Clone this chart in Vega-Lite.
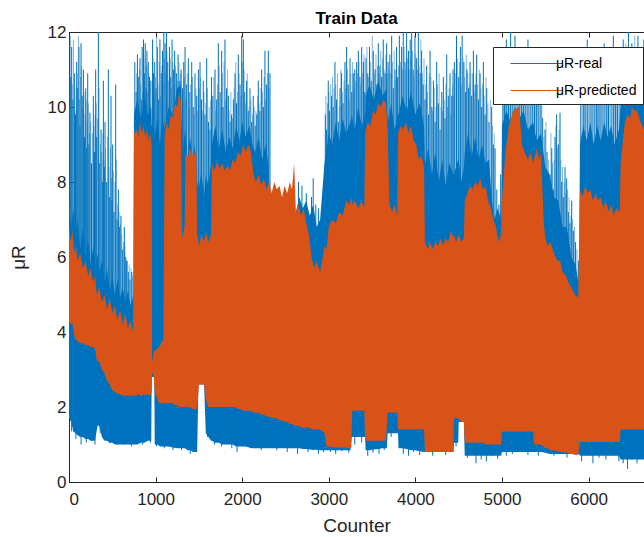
{
"$schema": "https://vega.github.io/schema/vega-lite/v6.json",
"width": 575, "height": 450,
"autosize": {"type": "none"},
"padding": {"left": 69, "top": 32, "right": 0, "bottom": 55},
"background": "white",
"title": {"text": "Train Data", "fontSize": 17, "fontWeight": "bold", "font": "Liberation Sans", "color": "#000000", "offset": -5, "anchor": "middle", "frame": "group"},
"config": {
  "view": {"stroke": "#262626", "strokeWidth": 1},
  "axis": {"labelFont": "Liberation Sans", "labelFontSize": 17, "labelColor": "#262626", "titleFont": "Liberation Sans", "titleFontSize": 19, "titleFontWeight": "normal", "titleColor": "#262626", "tickColor": "#262626", "domainColor": "#262626", "tickSize": -5, "labelPadding": 8, "grid": false}
},
"datasets": {
  "blue_band": [
    {"x":0,"lo":1.7,"top":7.5},{"x":25,"lo":1.6,"top":6.8},{"x":50,"lo":1.35,"top":7.3},{"x":75,"lo":1.3,"top":6.6},{"x":100,"lo":1.25,"top":7.0},{"x":130,"lo":1.2,"top":6.2},{"x":160,"lo":1.2,"top":6.8},{"x":190,"lo":1.15,"top":6.0},{"x":220,"lo":1.15,"top":6.5},{"x":250,"lo":1.1,"top":5.8},{"x":280,"lo":1.1,"top":6.3},{"x":300,"lo":1.1,"top":5.7},{"x":330,"lo":1.5,"top":6.1},{"x":350,"lo":1.5,"top":5.6},{"x":380,"lo":1.2,"top":5.9},{"x":410,"lo":1.1,"top":5.3},{"x":440,"lo":1.1,"top":5.7},{"x":470,"lo":1.05,"top":5.1},{"x":500,"lo":1.05,"top":5.5},{"x":530,"lo":1.0,"top":5.0},{"x":560,"lo":1.0,"top":5.4},{"x":590,"lo":1.0,"top":4.9},{"x":620,"lo":1.0,"top":5.2},{"x":650,"lo":1.0,"top":4.8},{"x":680,"lo":1.0,"top":5.1},{"x":710,"lo":1.0,"top":4.7},{"x":745,"lo":1.0,"top":5.0},
    {"x":750,"lo":1.0,"top":9.8},{"x":790,"lo":1.0,"top":10.2},{"x":830,"lo":1.05,"top":9.7},{"x":870,"lo":1.05,"top":10.3},{"x":910,"lo":1.1,"top":9.8},{"x":950,"lo":1.1,"top":10.0},
    {"x":955,"lo":2.8,"top":9.5},{"x":985,"lo":2.8,"top":9.4},{"x":990,"lo":1.0,"top":9.2},{"x":1020,"lo":1.0,"top":9.7},{"x":1050,"lo":0.95,"top":9.0},{"x":1080,"lo":0.95,"top":9.8},{"x":1100,"lo":0.95,"top":9.4},{"x":1150,"lo":0.95,"top":10.0},{"x":1200,"lo":0.92,"top":9.8},{"x":1250,"lo":0.9,"top":10.5},{"x":1290,"lo":0.9,"top":10.6},
    {"x":1310,"lo":0.9,"top":8.8},{"x":1340,"lo":0.9,"top":9.4},{"x":1370,"lo":0.85,"top":8.6},{"x":1400,"lo":0.85,"top":9.2},{"x":1430,"lo":0.8,"top":8.5},{"x":1450,"lo":0.8,"top":9.0},{"x":1480,"lo":0.8,"top":8.0},{"x":1495,"lo":2.6,"top":7.8},{"x":1530,"lo":2.6,"top":8.3},{"x":1560,"lo":2.6,"top":7.6},{"x":1580,"lo":1.3,"top":8.2},{"x":1610,"lo":1.2,"top":7.9},{"x":1640,"lo":1.1,"top":8.5},
    {"x":1650,"lo":1.1,"top":9.0},{"x":1690,"lo":1.05,"top":9.5},{"x":1730,"lo":1.05,"top":8.9},{"x":1770,"lo":1.0,"top":9.4},{"x":1810,"lo":1.0,"top":8.8},{"x":1850,"lo":1.0,"top":9.2},{"x":1890,"lo":1.0,"top":8.9},{"x":1930,"lo":0.95,"top":9.5},{"x":1970,"lo":0.95,"top":9.1},{"x":2000,"lo":0.95,"top":9.6},{"x":2040,"lo":0.95,"top":9.2},{"x":2080,"lo":0.92,"top":9.5},{"x":2120,"lo":0.9,"top":9.0},{"x":2150,"lo":0.9,"top":8.8},{"x":2190,"lo":0.9,"top":9.2},{"x":2230,"lo":0.9,"top":8.6},{"x":2270,"lo":0.9,"top":9.0},{"x":2300,"lo":0.9,"top":8.5},
    {"x":2330,"lo":0.9,"top":7.0},{"x":2620,"lo":0.9,"top":7.2},{"x":2660,"lo":0.9,"top":7.6},{"x":2700,"lo":0.88,"top":7.3},{"x":2740,"lo":0.88,"top":7.5},{"x":2780,"lo":0.87,"top":7.1},{"x":2820,"lo":0.86,"top":7.4},{"x":2860,"lo":0.86,"top":6.8},{"x":2900,"lo":0.85,"top":7.0},
    {"x":2950,"lo":0.85,"top":8.5},{"x":3000,"lo":0.85,"top":9.3},{"x":3040,"lo":0.85,"top":9.0},{"x":3080,"lo":0.85,"top":9.6},{"x":3120,"lo":0.85,"top":9.1},{"x":3160,"lo":0.85,"top":9.7},{"x":3200,"lo":0.85,"top":9.3},{"x":3250,"lo":0.85,"top":9.6},{"x":3265,"lo":1.2,"top":9.8},{"x":3300,"lo":1.2,"top":9.4},{"x":3340,"lo":1.2,"top":10.0},{"x":3380,"lo":1.2,"top":9.5},{"x":3420,"lo":1.2,"top":9.8},
    {"x":3425,"lo":0.85,"top":10.3},{"x":3470,"lo":0.85,"top":10.6},{"x":3520,"lo":0.87,"top":10.2},{"x":3570,"lo":0.88,"top":10.7},{"x":3620,"lo":0.9,"top":10.3},{"x":3670,"lo":0.9,"top":10.5},
    {"x":3680,"lo":1.3,"top":9.6},{"x":3720,"lo":1.3,"top":10.1},{"x":3760,"lo":1.3,"top":9.4},{"x":3800,"lo":1.3,"top":9.8},
    {"x":3805,"lo":0.9,"top":9.8},{"x":3850,"lo":0.9,"top":10.3},{"x":3900,"lo":0.88,"top":9.9},{"x":3950,"lo":0.85,"top":10.4},{"x":4000,"lo":0.85,"top":9.8},{"x":4050,"lo":0.82,"top":10.1},{"x":4100,"lo":0.8,"top":9.5},
    {"x":4110,"lo":0.8,"top":8.5},{"x":4150,"lo":0.8,"top":8.9},{"x":4190,"lo":0.8,"top":8.2},{"x":4230,"lo":0.8,"top":8.8},{"x":4270,"lo":0.8,"top":8.0},{"x":4310,"lo":0.8,"top":8.6},{"x":4350,"lo":0.8,"top":7.9},{"x":4390,"lo":0.8,"top":8.5},{"x":4440,"lo":0.8,"top":8.2},
    {"x":4445,"lo":1.05,"top":8.2},{"x":4495,"lo":1.05,"top":8.6},{"x":4500,"lo":1.6,"top":8.6},{"x":4530,"lo":1.6,"top":8.0},{"x":4560,"lo":1.6,"top":8.4},
    {"x":4570,"lo":0.7,"top":8.8},{"x":4610,"lo":0.7,"top":9.3},{"x":4650,"lo":0.7,"top":8.7},{"x":4690,"lo":0.7,"top":9.2},{"x":4730,"lo":0.7,"top":8.6},{"x":4770,"lo":0.7,"top":9.0},{"x":4810,"lo":0.7,"top":8.5},{"x":4850,"lo":0.7,"top":8.6},{"x":4880,"lo":0.7,"top":7.6},{"x":4910,"lo":0.7,"top":7.0},{"x":4950,"lo":0.7,"top":7.3},{"x":4990,"lo":0.7,"top":7.0},
    {"x":5000,"lo":0.8,"top":9.5},{"x":5050,"lo":0.8,"top":9.9},{"x":5100,"lo":0.8,"top":9.6},{"x":5150,"lo":0.8,"top":10.0},{"x":5200,"lo":0.8,"top":9.7},{"x":5250,"lo":0.8,"top":9.9},{"x":5300,"lo":0.8,"top":9.4},{"x":5360,"lo":0.8,"top":9.6},{"x":5400,"lo":0.8,"top":9.1},{"x":5450,"lo":0.8,"top":9.3},
    {"x":5500,"lo":0.78,"top":8.4},{"x":5550,"lo":0.75,"top":8.2},{"x":5600,"lo":0.75,"top":7.6},{"x":5650,"lo":0.75,"top":7.5},{"x":5700,"lo":0.75,"top":6.8},{"x":5750,"lo":0.75,"top":6.8},{"x":5800,"lo":0.75,"top":6.0},{"x":5850,"lo":0.75,"top":5.8},{"x":5890,"lo":0.75,"top":5.2},
    {"x":5900,"lo":0.7,"top":9.0},{"x":5940,"lo":0.7,"top":9.5},{"x":5980,"lo":0.7,"top":9.1},{"x":6020,"lo":0.7,"top":9.6},{"x":6060,"lo":0.7,"top":9.0},{"x":6100,"lo":0.7,"top":9.5},{"x":6140,"lo":0.7,"top":9.1},{"x":6180,"lo":0.7,"top":9.6},{"x":6220,"lo":0.7,"top":9.2},{"x":6260,"lo":0.7,"top":9.5},{"x":6300,"lo":0.7,"top":9.0},{"x":6350,"lo":0.7,"top":9.4},
    {"x":6370,"lo":0.6,"top":10.0},{"x":6410,"lo":0.6,"top":10.5},{"x":6450,"lo":0.6,"top":10.1},{"x":6490,"lo":0.6,"top":10.6},{"x":6530,"lo":0.6,"top":10.2},{"x":6570,"lo":0.6,"top":10.5},{"x":6610,"lo":0.6,"top":10.1},{"x":6640,"lo":0.6,"top":10.3}
  ],
  "blue_down": [
    {"x":30,"lo":1.35},{"x":55,"lo":1.5},{"x":80,"lo":1.15},{"x":110,"lo":1.4},{"x":140,"lo":1.0},{"x":170,"lo":1.3},{"x":200,"lo":1.05},{"x":230,"lo":1.25},{"x":260,"lo":1.1},{"x":300,"lo":1.0},{"x":360,"lo":1.3},{"x":420,"lo":1.2},{"x":470,"lo":1.05},{"x":520,"lo":1.25},{"x":560,"lo":1.0},{"x":600,"lo":1.2},{"x":640,"lo":1.0},{"x":690,"lo":1.1},{"x":720,"lo":0.95},{"x":800,"lo":1.15},{"x":850,"lo":1.0},{"x":900,"lo":1.1},{"x":940,"lo":1.05},{"x":1010,"lo":0.95},{"x":1050,"lo":1.05},{"x":1100,"lo":0.9},{"x":1150,"lo":1.0},{"x":1200,"lo":0.85},{"x":1250,"lo":1.0},{"x":1300,"lo":0.85},{"x":1350,"lo":0.9},{"x":1400,"lo":0.75},{"x":1440,"lo":0.8},{"x":1600,"lo":1.2},{"x":1680,"lo":1.0},{"x":1720,"lo":1.2},{"x":1760,"lo":0.95},{"x":1820,"lo":1.1},{"x":1880,"lo":0.9},{"x":1940,"lo":0.8},{"x":1990,"lo":1.0},{"x":2040,"lo":1.1},{"x":2100,"lo":0.9},{"x":2160,"lo":1.05},{"x":2220,"lo":0.85},{"x":2280,"lo":1.0},{"x":2340,"lo":0.95},{"x":2400,"lo":0.85},{"x":2460,"lo":1.0},{"x":2520,"lo":0.8},{"x":2580,"lo":0.9},{"x":2640,"lo":0.75},{"x":2700,"lo":0.9},{"x":2760,"lo":0.8},{"x":2820,"lo":0.85},{"x":2880,"lo":0.75},{"x":2940,"lo":0.8},
    {"x":3020,"lo":0.8},{"x":3080,"lo":0.75},{"x":3150,"lo":0.82},{"x":3230,"lo":0.78},{"x":3300,"lo":1.0},{"x":3380,"lo":1.05},{"x":3450,"lo":0.7},{"x":3510,"lo":0.78},{"x":3580,"lo":0.75},{"x":3640,"lo":0.85},{"x":3720,"lo":1.2},{"x":3860,"lo":0.75},{"x":3920,"lo":0.7},{"x":3980,"lo":0.8},{"x":4050,"lo":0.72},{"x":4200,"lo":0.7},{"x":4350,"lo":0.72},{"x":4470,"lo":0.95},{"x":4600,"lo":0.65},{"x":4650,"lo":0.75},{"x":4700,"lo":0.5},{"x":4760,"lo":0.6},{"x":4820,"lo":0.55},{"x":4880,"lo":0.7},{"x":4950,"lo":0.62},{"x":5050,"lo":0.7},{"x":5120,"lo":0.75},{"x":5200,"lo":0.8},{"x":5300,"lo":0.72},{"x":5420,"lo":0.7},{"x":5600,"lo":0.7},{"x":5750,"lo":0.65},{"x":5920,"lo":0.55},{"x":5980,"lo":0.7},{"x":6050,"lo":0.5},{"x":6120,"lo":0.65},{"x":6200,"lo":0.6},{"x":6280,"lo":0.7},{"x":6350,"lo":0.55},{"x":6400,"lo":0.5},{"x":6450,"lo":0.35},{"x":6500,"lo":0.6},{"x":6560,"lo":0.5},{"x":6620,"lo":0.7}
  ],
  "blue_spikes": [
    {"x":11,"hi":11.9},{"x":20,"hi":10.8},{"x":31,"hi":11.6},{"x":45,"hi":10.2},{"x":62,"hi":10.9},{"x":75,"hi":9.8},{"x":89,"hi":11.2},{"x":102,"hi":10.5},{"x":115,"hi":11.6},{"x":127,"hi":9.5},{"x":139,"hi":11.7},{"x":152,"hi":10.3},{"x":166,"hi":11.0},{"x":180,"hi":9.2},{"x":193,"hi":10.5},{"x":205,"hi":8.9},{"x":216,"hi":10.9},{"x":230,"hi":9.0},{"x":242,"hi":9.85},{"x":260,"hi":8.5},{"x":281,"hi":10.3},{"x":295,"hi":8.8},{"x":308,"hi":11.0},{"x":320,"hi":9.2},{"x":339,"hi":12.0},{"x":355,"hi":8.5},{"x":370,"hi":9.4},{"x":385,"hi":8.0},{"x":397,"hi":10.7},{"x":408,"hi":8.4},{"x":416,"hi":9.6},{"x":435,"hi":8.0},{"x":454,"hi":11.0},{"x":470,"hi":7.6},{"x":485,"hi":10.3},{"x":495,"hi":7.5},{"x":504,"hi":9.0},{"x":520,"hi":7.2},{"x":539,"hi":10.6},{"x":555,"hi":7.0},{"x":570,"hi":7.8},{"x":585,"hi":6.8},{"x":600,"hi":7.1},{"x":620,"hi":6.2},{"x":639,"hi":6.8},{"x":655,"hi":6.0},{"x":666,"hi":5.9},{"x":685,"hi":5.6},{"x":704,"hi":5.4},{"x":725,"hi":5.6},
    {"x":760,"hi":11.2},{"x":775,"hi":10.4},{"x":790,"hi":11.4},{"x":805,"hi":10.8},{"x":820,"hi":11.3},{"x":835,"hi":10.2},{"x":845,"hi":11.6},{"x":860,"hi":11.8},{"x":870,"hi":10.9},{"x":880,"hi":11.7},{"x":890,"hi":10.5},{"x":900,"hi":11.5},{"x":915,"hi":11.2},{"x":930,"hi":10.8},{"x":945,"hi":10.7},
    {"x":965,"hi":11.8},{"x":975,"hi":10.9},{"x":990,"hi":11.2},{"x":1005,"hi":10.5},{"x":1020,"hi":11.6},{"x":1035,"hi":10.2},{"x":1050,"hi":11.8},{"x":1065,"hi":10.9},{"x":1080,"hi":11.5},{"x":1095,"hi":12.0},
    {"x":1110,"hi":11.7},{"x":1125,"hi":12.0},{"x":1140,"hi":11.2},{"x":1160,"hi":11.6},{"x":1175,"hi":10.8},{"x":1190,"hi":11.8},{"x":1205,"hi":11.0},{"x":1220,"hi":11.5},{"x":1240,"hi":10.9},{"x":1260,"hi":11.4},{"x":1280,"hi":10.7},{"x":1295,"hi":11.0},
    {"x":1310,"hi":10.5},{"x":1325,"hi":11.2},{"x":1340,"hi":11.6},{"x":1355,"hi":10.6},{"x":1378,"hi":11.3},{"x":1395,"hi":10.4},{"x":1417,"hi":11.2},{"x":1435,"hi":10.0},{"x":1455,"hi":10.9},{"x":1475,"hi":10.3},{"x":1494,"hi":11.0},{"x":1513,"hi":11.2},{"x":1530,"hi":10.2},{"x":1551,"hi":10.7},{"x":1570,"hi":9.8},{"x":1590,"hi":11.3},{"x":1610,"hi":9.6},{"x":1628,"hi":9.4},{"x":1645,"hi":10.8},
    {"x":1660,"hi":10.3},{"x":1686,"hi":11.0},{"x":1705,"hi":10.2},{"x":1724,"hi":11.7},{"x":1745,"hi":10.4},{"x":1763,"hi":11.5},{"x":1780,"hi":10.0},{"x":1801,"hi":11.8},{"x":1820,"hi":10.5},{"x":1840,"hi":10.3},{"x":1860,"hi":9.6},{"x":1878,"hi":9.8},{"x":1898,"hi":10.2},{"x":1917,"hi":10.9},{"x":1935,"hi":10.1},{"x":1955,"hi":11.4},{"x":1975,"hi":10.6},{"x":1994,"hi":11.9},{"x":2013,"hi":11.8},{"x":2030,"hi":10.4},{"x":2051,"hi":10.7},{"x":2070,"hi":9.9},{"x":2090,"hi":10.5},{"x":2110,"hi":9.6},{"x":2128,"hi":10.3},{"x":2150,"hi":9.5},{"x":2168,"hi":9.8},{"x":2186,"hi":10.7},{"x":2205,"hi":9.9},{"x":2225,"hi":11.0},{"x":2245,"hi":10.0},{"x":2263,"hi":11.5},{"x":2282,"hi":10.6},{"x":2302,"hi":11.5},{"x":2321,"hi":10.9},
    {"x":2650,"hi":8.0},{"x":2690,"hi":7.9},{"x":2740,"hi":7.7},{"x":2800,"hi":7.6},{"x":2820,"hi":8.1},{"x":2850,"hi":7.4},{"x":2880,"hi":7.3},{"x":2910,"hi":7.0},{"x":2930,"hi":7.5},
    {"x":2960,"hi":9.8},{"x":2975,"hi":9.4},{"x":2994,"hi":10.7},{"x":3010,"hi":9.9},{"x":3033,"hi":10.3},{"x":3050,"hi":10.0},{"x":3071,"hi":11.2},{"x":3090,"hi":10.2},{"x":3110,"hi":9.6},{"x":3130,"hi":10.5},{"x":3148,"hi":10.9},{"x":3165,"hi":10.1},{"x":3187,"hi":11.2},{"x":3206,"hi":11.6},{"x":3225,"hi":10.6},{"x":3245,"hi":11.3},{"x":3265,"hi":10.4},{"x":3283,"hi":10.9},{"x":3300,"hi":11.0},{"x":3322,"hi":11.2},{"x":3341,"hi":11.5},{"x":3360,"hi":10.8},{"x":3380,"hi":11.6},{"x":3400,"hi":11.2},{"x":3415,"hi":10.4},
    {"x":3430,"hi":11.3},{"x":3450,"hi":10.9},{"x":3470,"hi":11.6},{"x":3490,"hi":10.7},{"x":3514,"hi":11.5},{"x":3535,"hi":11.0},{"x":3555,"hi":10.6},{"x":3572,"hi":11.7},{"x":3590,"hi":11.1},{"x":3610,"hi":10.8},{"x":3629,"hi":11.8},{"x":3650,"hi":10.9},{"x":3668,"hi":11.7},{"x":3685,"hi":11.2},
    {"x":3705,"hi":11.4},{"x":3726,"hi":11.9},{"x":3745,"hi":10.5},{"x":3765,"hi":11.0},{"x":3783,"hi":11.6},{"x":3795,"hi":10.8},
    {"x":3815,"hi":11.9},{"x":3841,"hi":11.6},{"x":3860,"hi":12.0},{"x":3880,"hi":11.2},{"x":3899,"hi":12.0},{"x":3920,"hi":11.5},{"x":3940,"hi":11.8},{"x":3957,"hi":12.0},{"x":3975,"hi":11.0},{"x":3995,"hi":11.9},{"x":4015,"hi":11.3},{"x":4034,"hi":12.0},{"x":4055,"hi":10.9},{"x":4072,"hi":11.5},{"x":4090,"hi":10.6},
    {"x":4111,"hi":10.2},{"x":4130,"hi":11.1},{"x":4150,"hi":9.8},{"x":4169,"hi":11.5},{"x":4190,"hi":10.0},{"x":4208,"hi":10.7},{"x":4228,"hi":9.6},{"x":4246,"hi":11.2},{"x":4265,"hi":10.1},{"x":4285,"hi":9.4},{"x":4305,"hi":10.4},{"x":4323,"hi":10.8},{"x":4342,"hi":9.7},{"x":4362,"hi":11.4},{"x":4380,"hi":10.3},{"x":4400,"hi":10.9},{"x":4420,"hi":10.3},{"x":4435,"hi":11.0},
    {"x":4450,"hi":11.2},{"x":4475,"hi":11.9},{"x":4500,"hi":10.8},{"x":4520,"hi":11.6},{"x":4540,"hi":11.9},{"x":4560,"hi":11.2},{"x":4580,"hi":10.4},{"x":4595,"hi":11.0},
    {"x":4615,"hi":10.5},{"x":4631,"hi":11.2},{"x":4650,"hi":10.3},{"x":4670,"hi":11.5},{"x":4690,"hi":10.6},{"x":4708,"hi":11.4},{"x":4728,"hi":10.2},{"x":4747,"hi":10.9},{"x":4766,"hi":10.0},{"x":4785,"hi":11.2},{"x":4805,"hi":9.8},{"x":4824,"hi":10.5},{"x":4850,"hi":9.6},{"x":4881,"hi":10.0},{"x":4900,"hi":9.0},{"x":4920,"hi":8.9},
    {"x":4940,"hi":7.8},{"x":4965,"hi":7.4},{"x":4985,"hi":8.2},
    {"x":5010,"hi":11.5},{"x":5030,"hi":10.8},{"x":5050,"hi":11.8},{"x":5075,"hi":11.0},{"x":5100,"hi":12.0},{"x":5125,"hi":11.3},{"x":5150,"hi":11.9},{"x":5175,"hi":10.9},{"x":5200,"hi":11.6},{"x":5225,"hi":10.7},{"x":5250,"hi":11.4},{"x":5275,"hi":10.5},{"x":5300,"hi":11.8},{"x":5325,"hi":10.6},{"x":5350,"hi":11.2},{"x":5375,"hi":10.4},{"x":5400,"hi":11.0},{"x":5425,"hi":10.2},{"x":5450,"hi":10.8},
    {"x":5470,"hi":9.7},{"x":5497,"hi":9.4},{"x":5520,"hi":8.8},{"x":5554,"hi":8.2},{"x":5575,"hi":8.9},{"x":5593,"hi":7.8},{"x":5612,"hi":9.2},{"x":5631,"hi":9.8},{"x":5650,"hi":9.0},{"x":5670,"hi":9.85},{"x":5690,"hi":8.0},{"x":5708,"hi":7.6},{"x":5728,"hi":8.4},{"x":5747,"hi":8.1},{"x":5766,"hi":7.2},{"x":5785,"hi":6.9},{"x":5805,"hi":7.5},{"x":5824,"hi":6.7},{"x":5850,"hi":6.4},{"x":5882,"hi":5.9},
    {"x":5910,"hi":10.2},{"x":5939,"hi":11.0},{"x":5960,"hi":10.5},{"x":5985,"hi":11.8},{"x":6016,"hi":10.9},{"x":6040,"hi":11.5},{"x":6065,"hi":10.3},{"x":6090,"hi":11.6},{"x":6110,"hi":10.6},{"x":6132,"hi":11.2},{"x":6155,"hi":10.4},{"x":6180,"hi":11.7},{"x":6209,"hi":10.8},{"x":6230,"hi":11.3},{"x":6260,"hi":10.2},{"x":6286,"hi":11.9},{"x":6310,"hi":10.6},{"x":6335,"hi":11.2},{"x":6363,"hi":10.8},
    {"x":6380,"hi":11.2},{"x":6400,"hi":11.8},{"x":6420,"hi":10.9},{"x":6440,"hi":11.5},{"x":6460,"hi":12.0},{"x":6480,"hi":11.1},{"x":6500,"hi":11.7},{"x":6520,"hi":10.8},{"x":6545,"hi":11.6},{"x":6570,"hi":11.9},{"x":6595,"hi":11.0},{"x":6620,"hi":11.5},{"x":6638,"hi":11.8}
  ],
  "blue_spikes2": [
    {"x":5,"hi":10.9},{"x":38,"hi":10.6},{"x":52,"hi":11.8},{"x":68,"hi":9.9},{"x":82,"hi":10.5},{"x":95,"hi":10.9},{"x":108,"hi":11.9},{"x":121,"hi":10.2},{"x":133,"hi":10.8},{"x":146,"hi":11.1},{"x":159,"hi":10.0},{"x":173,"hi":10.4},{"x":186,"hi":9.8},{"x":199,"hi":10.2},{"x":210,"hi":9.6},{"x":223,"hi":10.1},{"x":236,"hi":9.3},{"x":251,"hi":9.6},{"x":270,"hi":9.3},{"x":288,"hi":9.5},{"x":301,"hi":9.8},{"x":314,"hi":10.1},{"x":330,"hi":9.7},{"x":347,"hi":10.5},{"x":362,"hi":9.0},{"x":378,"hi":8.8},{"x":391,"hi":9.3},{"x":403,"hi":8.6},{"x":422,"hi":8.9},{"x":444,"hi":9.2},{"x":462,"hi":8.4},{"x":478,"hi":8.9},{"x":490,"hi":8.1},{"x":512,"hi":8.3},{"x":530,"hi":8.0},{"x":547,"hi":8.6},{"x":562,"hi":7.4},{"x":578,"hi":7.2},{"x":593,"hi":6.9},{"x":610,"hi":6.6},{"x":630,"hi":6.4},{"x":647,"hi":6.3},{"x":675,"hi":5.9},{"x":695,"hi":5.8},{"x":715,"hi":5.7},{"x":735,"hi":5.5},
    {"x":768,"hi":10.0},{"x":783,"hi":10.9},{"x":798,"hi":10.1},{"x":813,"hi":11.0},{"x":828,"hi":10.6},{"x":852,"hi":10.4},{"x":865,"hi":11.3},{"x":885,"hi":10.2},{"x":895,"hi":11.1},{"x":908,"hi":10.4},{"x":922,"hi":10.9},{"x":938,"hi":10.0},{"x":970,"hi":11.3},{"x":983,"hi":10.4},{"x":998,"hi":10.8},{"x":1012,"hi":11.9},{"x":1028,"hi":10.6},{"x":1042,"hi":11.2},{"x":1058,"hi":10.3},{"x":1072,"hi":11.1},{"x":1088,"hi":10.6},{"x":1103,"hi":11.3},{"x":1118,"hi":10.9},{"x":1132,"hi":11.5},{"x":1150,"hi":10.7},{"x":1168,"hi":11.3},{"x":1183,"hi":10.5},{"x":1198,"hi":11.2},{"x":1213,"hi":10.6},{"x":1230,"hi":11.1},{"x":1250,"hi":10.7},{"x":1270,"hi":11.2},{"x":1288,"hi":10.9},
    {"x":1318,"hi":10.1},{"x":1332,"hi":10.8},{"x":1347,"hi":10.2},{"x":1366,"hi":10.9},{"x":1386,"hi":10.0},{"x":1406,"hi":10.6},{"x":1426,"hi":10.8},{"x":1445,"hi":9.8},{"x":1465,"hi":10.5},{"x":1485,"hi":9.9},{"x":1503,"hi":10.5},{"x":1521,"hi":10.8},{"x":1540,"hi":9.9},{"x":1560,"hi":10.4},{"x":1580,"hi":10.1},{"x":1600,"hi":10.5},{"x":1619,"hi":10.0},{"x":1636,"hi":10.2},
    {"x":1673,"hi":10.8},{"x":1695,"hi":9.9},{"x":1715,"hi":10.6},{"x":1735,"hi":11.1},{"x":1754,"hi":10.0},{"x":1772,"hi":10.9},{"x":1790,"hi":11.2},{"x":1810,"hi":10.2},{"x":1830,"hi":11.0},{"x":1850,"hi":9.9},{"x":1869,"hi":10.4},{"x":1888,"hi":9.7},{"x":1907,"hi":10.5},{"x":1926,"hi":11.2},{"x":1945,"hi":10.4},{"x":1965,"hi":10.9},{"x":1985,"hi":10.3},{"x":2004,"hi":11.2},{"x":2022,"hi":11.0},{"x":2040,"hi":10.1},{"x":2060,"hi":10.9},{"x":2080,"hi":10.0},{"x":2100,"hi":10.2},{"x":2119,"hi":9.8},{"x":2139,"hi":10.0},{"x":2159,"hi":9.9},{"x":2177,"hi":10.3},{"x":2195,"hi":10.1},{"x":2215,"hi":10.5},{"x":2235,"hi":10.4},{"x":2254,"hi":10.8},{"x":2272,"hi":10.2},{"x":2292,"hi":10.9},{"x":2311,"hi":10.5},
    {"x":2967,"hi":10.3},{"x":2985,"hi":10.1},{"x":3002,"hi":10.4},{"x":3022,"hi":10.6},{"x":3042,"hi":10.8},{"x":3060,"hi":10.5},{"x":3080,"hi":10.6},{"x":3100,"hi":10.9},{"x":3120,"hi":10.0},{"x":3139,"hi":11.0},{"x":3157,"hi":10.4},{"x":3176,"hi":10.7},{"x":3196,"hi":10.5},{"x":3215,"hi":11.0},{"x":3235,"hi":10.2},{"x":3255,"hi":10.9},{"x":3274,"hi":11.2},{"x":3292,"hi":10.5},{"x":3311,"hi":10.7},{"x":3331,"hi":10.9},{"x":3350,"hi":11.2},{"x":3370,"hi":10.6},{"x":3390,"hi":10.9},{"x":3408,"hi":11.4},
    {"x":3440,"hi":11.6},{"x":3460,"hi":10.8},{"x":3480,"hi":11.2},{"x":3502,"hi":11.9},{"x":3524,"hi":10.9},{"x":3545,"hi":11.4},{"x":3563,"hi":11.1},{"x":3581,"hi":10.9},{"x":3600,"hi":11.5},{"x":3620,"hi":11.3},{"x":3640,"hi":11.0},{"x":3659,"hi":11.4},{"x":3676,"hi":10.9},{"x":3695,"hi":11.0},{"x":3715,"hi":10.9},{"x":3735,"hi":11.2},{"x":3755,"hi":11.5},{"x":3774,"hi":10.7},{"x":3805,"hi":11.1},{"x":3828,"hi":11.2},{"x":3850,"hi":11.0},{"x":3870,"hi":11.6},{"x":3890,"hi":11.0},{"x":3910,"hi":11.3},{"x":3930,"hi":11.0},{"x":3948,"hi":11.3},{"x":3966,"hi":11.5},{"x":3985,"hi":10.8},{"x":4005,"hi":11.4},{"x":4025,"hi":11.0},{"x":4044,"hi":11.1},{"x":4063,"hi":11.8},{"x":4081,"hi":10.9},{"x":4100,"hi":11.3},
    {"x":4120,"hi":10.6},{"x":4140,"hi":10.4},{"x":4160,"hi":10.9},{"x":4180,"hi":10.8},{"x":4199,"hi":9.9},{"x":4218,"hi":10.5},{"x":4237,"hi":10.0},{"x":4256,"hi":10.6},{"x":4275,"hi":10.9},{"x":4295,"hi":10.0},{"x":4314,"hi":9.9},{"x":4333,"hi":10.2},{"x":4352,"hi":10.6},{"x":4371,"hi":10.0},{"x":4390,"hi":10.5},{"x":4410,"hi":9.8},{"x":4428,"hi":10.6},{"x":4443,"hi":10.3},{"x":4462,"hi":10.9},{"x":4488,"hi":11.3},{"x":4510,"hi":11.2},{"x":4530,"hi":10.6},{"x":4550,"hi":11.3},{"x":4570,"hi":10.8},{"x":4588,"hi":11.4},{"x":4605,"hi":10.9},{"x":4623,"hi":10.6},{"x":4640,"hi":10.9},{"x":4660,"hi":10.9},{"x":4680,"hi":10.4},{"x":4699,"hi":10.9},{"x":4718,"hi":10.6},{"x":4738,"hi":11.0},{"x":4757,"hi":10.5},{"x":4776,"hi":10.6},{"x":4795,"hi":10.3},{"x":4815,"hi":10.8},{"x":4837,"hi":10.1},{"x":4865,"hi":10.2},{"x":4890,"hi":9.5},{"x":4910,"hi":9.3},
    {"x":5020,"hi":11.0},{"x":5040,"hi":11.3},{"x":5062,"hi":10.6},{"x":5088,"hi":11.4},{"x":5112,"hi":10.8},{"x":5138,"hi":11.5},{"x":5162,"hi":10.6},{"x":5188,"hi":11.2},{"x":5212,"hi":11.0},{"x":5238,"hi":11.1},{"x":5262,"hi":10.9},{"x":5288,"hi":11.0},{"x":5312,"hi":11.2},{"x":5338,"hi":10.9},{"x":5362,"hi":10.8},{"x":5388,"hi":11.1},{"x":5412,"hi":10.6},{"x":5438,"hi":10.4},{"x":5460,"hi":10.2},
    {"x":5484,"hi":9.2},{"x":5508,"hi":9.6},{"x":5537,"hi":8.6},{"x":5565,"hi":9.3},{"x":5584,"hi":8.5},{"x":5602,"hi":8.6},{"x":5622,"hi":9.5},{"x":5640,"hi":8.9},{"x":5660,"hi":9.4},{"x":5680,"hi":8.6},{"x":5699,"hi":8.4},{"x":5718,"hi":8.0},{"x":5738,"hi":7.7},{"x":5756,"hi":7.8},{"x":5775,"hi":7.6},{"x":5795,"hi":7.1},{"x":5815,"hi":7.0},{"x":5837,"hi":6.8},{"x":5866,"hi":6.2},
    {"x":5925,"hi":10.6},{"x":5950,"hi":10.2},{"x":5972,"hi":11.2},{"x":6000,"hi":10.5},{"x":6028,"hi":11.2},{"x":6052,"hi":10.8},{"x":6078,"hi":10.9},{"x":6100,"hi":11.0},{"x":6121,"hi":10.3},{"x":6143,"hi":10.9},{"x":6168,"hi":10.6},{"x":6195,"hi":11.1},{"x":6220,"hi":10.4},{"x":6245,"hi":10.9},{"x":6273,"hi":10.8},{"x":6298,"hi":11.3},{"x":6322,"hi":10.7},{"x":6349,"hi":10.4},{"x":6371,"hi":11.6},{"x":6390,"hi":10.7},{"x":6410,"hi":11.3},{"x":6430,"hi":11.7},{"x":6450,"hi":10.8},{"x":6470,"hi":11.5},{"x":6490,"hi":10.9},{"x":6510,"hi":11.3},{"x":6532,"hi":11.9},{"x":6558,"hi":10.9},{"x":6582,"hi":11.4},{"x":6608,"hi":10.7},{"x":6630,"hi":11.1}
  ],
  "orange_band": [
    {"x":0,"lo":4.3,"hi":6.8},{"x":20,"lo":4.2,"hi":6.4},{"x":40,"lo":4.25,"hi":6.7},{"x":60,"lo":3.9,"hi":6.1},{"x":80,"lo":3.8,"hi":6.3},{"x":100,"lo":3.75,"hi":5.9},{"x":130,"lo":3.7,"hi":6.1},{"x":160,"lo":3.7,"hi":5.7},{"x":190,"lo":3.65,"hi":5.9},{"x":220,"lo":3.65,"hi":5.5},{"x":250,"lo":3.6,"hi":5.7},{"x":280,"lo":3.6,"hi":5.3},{"x":300,"lo":3.55,"hi":5.5},{"x":320,"lo":3.25,"hi":5.0},{"x":350,"lo":3.2,"hi":5.2},{"x":380,"lo":3.0,"hi":4.8},{"x":410,"lo":2.9,"hi":5.0},{"x":440,"lo":2.7,"hi":4.6},{"x":470,"lo":2.6,"hi":4.9},{"x":500,"lo":2.45,"hi":4.5},{"x":530,"lo":2.4,"hi":4.7},{"x":560,"lo":2.35,"hi":4.3},{"x":590,"lo":2.35,"hi":4.6},{"x":620,"lo":2.3,"hi":4.2},{"x":650,"lo":2.3,"hi":4.5},{"x":680,"lo":2.3,"hi":4.1},{"x":710,"lo":2.3,"hi":4.3},{"x":740,"lo":2.3,"hi":4.0},
    {"x":750,"lo":2.3,"hi":9.3},{"x":780,"lo":2.3,"hi":9.4},{"x":800,"lo":2.35,"hi":9.2},{"x":820,"lo":2.3,"hi":9.6},{"x":840,"lo":2.3,"hi":9.3},{"x":860,"lo":2.35,"hi":9.5},{"x":880,"lo":2.3,"hi":9.2},{"x":900,"lo":2.35,"hi":9.4},{"x":920,"lo":2.3,"hi":9.1},{"x":940,"lo":2.35,"hi":9.3},{"x":955,"lo":2.4,"hi":9.0},
    {"x":960,"lo":2.9,"hi":3.2},{"x":975,"lo":2.9,"hi":3.4},{"x":990,"lo":2.4,"hi":3.5},{"x":1040,"lo":2.1,"hi":3.6},{"x":1090,"lo":2.1,"hi":3.8},
    {"x":1105,"lo":2.1,"hi":9.3},{"x":1130,"lo":2.1,"hi":9.6},{"x":1150,"lo":2.1,"hi":9.4},{"x":1175,"lo":2.1,"hi":9.8},{"x":1200,"lo":2.1,"hi":9.7},{"x":1225,"lo":2.05,"hi":10.1},{"x":1250,"lo":2.05,"hi":10.0},{"x":1270,"lo":2.0,"hi":10.4},{"x":1290,"lo":2.0,"hi":10.2},
    {"x":1305,"lo":2.0,"hi":6.5},{"x":1335,"lo":2.0,"hi":6.8},
    {"x":1345,"lo":2.0,"hi":8.8},{"x":1370,"lo":2.0,"hi":8.6},{"x":1400,"lo":2.0,"hi":8.9},{"x":1430,"lo":1.95,"hi":8.7},{"x":1470,"lo":1.95,"hi":8.8},
    {"x":1480,"lo":1.95,"hi":6.6},{"x":1500,"lo":2.6,"hi":6.3},{"x":1530,"lo":2.6,"hi":6.6},{"x":1560,"lo":2.6,"hi":6.4},{"x":1580,"lo":2.2,"hi":6.7},{"x":1610,"lo":2.0,"hi":6.4},{"x":1640,"lo":2.0,"hi":6.6},
    {"x":1650,"lo":2.0,"hi":8.5},{"x":1680,"lo":2.0,"hi":8.3},{"x":1710,"lo":2.0,"hi":8.55},{"x":1740,"lo":2.0,"hi":8.35},{"x":1770,"lo":2.0,"hi":8.5},{"x":1800,"lo":2.0,"hi":8.3},{"x":1830,"lo":2.0,"hi":8.45},{"x":1860,"lo":2.0,"hi":8.3},{"x":1890,"lo":2.0,"hi":8.6},{"x":1920,"lo":2.0,"hi":8.5},{"x":1950,"lo":1.95,"hi":8.8},{"x":1980,"lo":1.95,"hi":8.7},{"x":2010,"lo":1.9,"hi":9.0},{"x":2040,"lo":1.9,"hi":8.8},{"x":2070,"lo":1.9,"hi":9.0},{"x":2100,"lo":1.9,"hi":8.8},
    {"x":2130,"lo":1.85,"hi":8.2},{"x":2160,"lo":1.85,"hi":8.0},{"x":2190,"lo":1.85,"hi":8.2},{"x":2220,"lo":1.8,"hi":7.9},{"x":2250,"lo":1.8,"hi":8.1},{"x":2280,"lo":1.75,"hi":7.8},{"x":2310,"lo":1.75,"hi":8.0},{"x":2340,"lo":1.7,"hi":7.7},{"x":2370,"lo":1.7,"hi":8.0},{"x":2400,"lo":1.7,"hi":7.8},{"x":2430,"lo":1.65,"hi":7.9},{"x":2460,"lo":1.65,"hi":7.6},{"x":2490,"lo":1.6,"hi":7.9},{"x":2520,"lo":1.6,"hi":7.7},{"x":2550,"lo":1.55,"hi":8.0},{"x":2575,"lo":1.55,"hi":7.8},{"x":2600,"lo":1.5,"hi":8.5},
    {"x":2620,"lo":1.5,"hi":7.2},{"x":2650,"lo":1.5,"hi":7.4},{"x":2680,"lo":1.45,"hi":7.1},{"x":2710,"lo":1.45,"hi":7.3},{"x":2740,"lo":1.45,"hi":6.9},{"x":2770,"lo":1.45,"hi":6.6},{"x":2800,"lo":1.4,"hi":6.0},{"x":2830,"lo":1.4,"hi":5.7},{"x":2860,"lo":1.4,"hi":5.9},{"x":2900,"lo":1.4,"hi":5.6},{"x":2930,"lo":1.35,"hi":6.0},{"x":2950,"lo":1.3,"hi":6.3},
    {"x":2975,"lo":0.95,"hi":6.2},{"x":3000,"lo":0.94,"hi":6.8},{"x":3040,"lo":0.93,"hi":7.0},{"x":3080,"lo":0.92,"hi":6.9},{"x":3120,"lo":0.92,"hi":7.2},{"x":3160,"lo":0.92,"hi":7.1},{"x":3200,"lo":0.92,"hi":7.5},{"x":3240,"lo":0.9,"hi":7.4},{"x":3260,"lo":0.9,"hi":7.6},
    {"x":3270,"lo":1.9,"hi":7.4},{"x":3300,"lo":1.9,"hi":7.5},{"x":3340,"lo":1.9,"hi":7.3},{"x":3380,"lo":1.9,"hi":7.5},{"x":3410,"lo":1.9,"hi":7.3},
    {"x":3420,"lo":1.1,"hi":9.3},{"x":3450,"lo":1.1,"hi":9.6},{"x":3480,"lo":1.1,"hi":9.5},{"x":3510,"lo":1.1,"hi":9.9},{"x":3540,"lo":1.1,"hi":9.8},{"x":3570,"lo":1.1,"hi":10.1},{"x":3600,"lo":1.1,"hi":10.0},{"x":3630,"lo":1.1,"hi":10.2},{"x":3660,"lo":1.1,"hi":10.1},
    {"x":3680,"lo":1.85,"hi":9.4},{"x":3700,"lo":1.85,"hi":7.4},{"x":3730,"lo":1.85,"hi":7.2},{"x":3760,"lo":1.85,"hi":7.4},{"x":3790,"lo":1.85,"hi":7.1},
    {"x":3800,"lo":1.4,"hi":9.3},{"x":3830,"lo":1.4,"hi":9.5},{"x":3860,"lo":1.4,"hi":9.4},{"x":3890,"lo":1.4,"hi":9.6},{"x":3920,"lo":1.4,"hi":9.3},{"x":3950,"lo":1.4,"hi":9.5},{"x":3980,"lo":1.4,"hi":9.1},{"x":4010,"lo":1.4,"hi":9.0},{"x":4040,"lo":1.4,"hi":8.6},{"x":4070,"lo":1.4,"hi":8.7},{"x":4100,"lo":1.4,"hi":8.4},
    {"x":4110,"lo":0.8,"hi":6.4},{"x":4140,"lo":0.8,"hi":6.2},{"x":4170,"lo":0.8,"hi":6.4},{"x":4200,"lo":0.8,"hi":6.2},{"x":4230,"lo":0.8,"hi":6.4},{"x":4260,"lo":0.8,"hi":6.3},{"x":4290,"lo":0.8,"hi":6.5},{"x":4320,"lo":0.8,"hi":6.3},{"x":4350,"lo":0.8,"hi":6.5},{"x":4380,"lo":0.8,"hi":6.4},{"x":4410,"lo":0.8,"hi":6.7},{"x":4440,"lo":0.8,"hi":6.5},
    {"x":4445,"lo":1.7,"hi":6.6},{"x":4470,"lo":1.7,"hi":6.4},{"x":4500,"lo":1.7,"hi":6.6},{"x":4530,"lo":1.6,"hi":6.4},{"x":4560,"lo":1.6,"hi":6.5},
    {"x":4570,"lo":1.05,"hi":7.5},{"x":4600,"lo":1.05,"hi":7.7},{"x":4630,"lo":1.05,"hi":7.9},{"x":4660,"lo":1.05,"hi":7.8},{"x":4690,"lo":1.05,"hi":8.0},{"x":4720,"lo":1.05,"hi":7.9},{"x":4750,"lo":1.05,"hi":8.1},{"x":4780,"lo":1.05,"hi":7.8},{"x":4810,"lo":1.0,"hi":7.9},{"x":4840,"lo":1.0,"hi":7.5},{"x":4870,"lo":1.0,"hi":7.3},{"x":4900,"lo":1.0,"hi":7.0},{"x":4930,"lo":1.0,"hi":6.8},{"x":4960,"lo":1.0,"hi":6.4},{"x":4990,"lo":1.0,"hi":6.6},
    {"x":5000,"lo":1.35,"hi":7.5},{"x":5040,"lo":1.35,"hi":8.8},{"x":5080,"lo":1.35,"hi":9.5},{"x":5130,"lo":1.35,"hi":9.9},{"x":5200,"lo":1.35,"hi":10.0},{"x":5230,"lo":1.35,"hi":9.0},{"x":5260,"lo":1.35,"hi":8.8},{"x":5300,"lo":1.35,"hi":8.6},{"x":5330,"lo":1.35,"hi":8.8},{"x":5360,"lo":1.35,"hi":8.5},
    {"x":5370,"lo":1.0,"hi":8.6},{"x":5400,"lo":1.0,"hi":8.9},{"x":5430,"lo":1.0,"hi":8.6},{"x":5450,"lo":1.0,"hi":8.8},{"x":5480,"lo":0.95,"hi":7.0},{"x":5500,"lo":0.9,"hi":6.5},{"x":5530,"lo":0.9,"hi":6.3},{"x":5560,"lo":0.85,"hi":6.4},{"x":5600,"lo":0.85,"hi":6.1},{"x":5640,"lo":0.82,"hi":5.9},{"x":5670,"lo":0.8,"hi":5.9},{"x":5700,"lo":0.8,"hi":5.6},{"x":5740,"lo":0.78,"hi":5.5},{"x":5770,"lo":0.77,"hi":5.3},{"x":5800,"lo":0.75,"hi":5.2},{"x":5840,"lo":0.73,"hi":5.0},{"x":5880,"lo":0.72,"hi":4.9},
    {"x":5900,"lo":1.07,"hi":7.8},{"x":5930,"lo":1.07,"hi":7.6},{"x":5960,"lo":1.07,"hi":7.9},{"x":5990,"lo":1.07,"hi":7.7},{"x":6020,"lo":1.07,"hi":7.8},{"x":6050,"lo":1.07,"hi":7.5},{"x":6080,"lo":1.07,"hi":7.7},{"x":6110,"lo":1.07,"hi":7.5},{"x":6140,"lo":1.07,"hi":7.6},{"x":6170,"lo":1.07,"hi":7.3},{"x":6200,"lo":1.07,"hi":7.5},{"x":6230,"lo":1.07,"hi":7.2},{"x":6260,"lo":1.07,"hi":7.4},{"x":6290,"lo":1.07,"hi":7.1},{"x":6320,"lo":1.07,"hi":7.3},{"x":6360,"lo":1.07,"hi":7.2},
    {"x":6370,"lo":1.4,"hi":8.5},{"x":6400,"lo":1.4,"hi":9.2},{"x":6420,"lo":1.4,"hi":9.6},{"x":6450,"lo":1.4,"hi":9.8},{"x":6480,"lo":1.4,"hi":9.7},{"x":6500,"lo":1.4,"hi":10.0},{"x":6530,"lo":1.4,"hi":9.9},{"x":6560,"lo":1.4,"hi":9.9},{"x":6600,"lo":1.4,"hi":9.6},{"x":6640,"lo":1.4,"hi":9.4}
  ]
},
"resolve": {"axis": {"x": "independent"}},
"layer": [
  {
    "data": {"name": "blue_spikes"},
    "mark": {"type": "rule", "strokeWidth": 1, "clip": true},
    "encoding": {
      "x": {"field": "x", "type": "quantitative", "scale": {"domain": [0, 6640], "nice": false, "zero": false},
            "axis": {"orient": "bottom", "title": "Counter", "values": [0,1000,2000,3000,4000,5000,6000], "format": "d", "labelPadding": 14, "titlePadding": 9}},
      "y": {"field": "hi", "type": "quantitative", "scale": {"domain": [0, 12], "nice": false},
            "axis": {"title": "μR", "values": [0,2,4,6,8,10,12], "titlePadding": 19}},
      "y2": {"datum": 3},
      "color": {"datum": "μR-real", "type": "nominal",
        "scale": {"domain": ["μR-real", "μR-predicted"], "range": ["#0072BD", "#D95319"]},
        "legend": {"title": null, "orient": "none", "legendX": 424, "legendY": 15,
          "symbolType": "M-2.6,0H2.6", "symbolSize": 400, "symbolStrokeWidth": 1, "symbolOffset": 27,
          "labelOffset": 9, "labelFont": "Liberation Sans", "labelFontSize": 14, "labelColor": "#000000",
          "rowPadding": 9, "padding": 6, "fillColor": "white", "strokeColor": "#262626", "cornerRadius": 0,
          "encode": {"symbols": {"update": {"stroke": {"scale": "color", "field": "value"}, "fill": {"value": "transparent"}, "strokeWidth": {"value": 1}}}}}}
    }
  },
  {
    "data": {"name": "blue_spikes2"},
    "mark": {"type": "rule", "strokeWidth": 1, "clip": true, "color": "#0072BD", "opacity": 0.5},
    "encoding": {
      "x": {"field": "x", "type": "quantitative", "axis": null},
      "y": {"field": "hi", "type": "quantitative"},
      "y2": {"datum": 3}
    }
  },
  {
    "data": {"name": "blue_band"},
    "mark": {"type": "area", "clip": true, "color": "#0072BD"},
    "encoding": {
      "x": {"field": "x", "type": "quantitative", "axis": {"orient": "top", "labels": false, "title": null, "domain": false, "values": [0,1000,2000,3000,4000,5000,6000]}},
      "y": {"field": "top", "type": "quantitative"},
      "y2": {"field": "lo"}
    }
  },
  {
    "data": {"name": "blue_down"},
    "mark": {"type": "rule", "strokeWidth": 1, "clip": true, "color": "#0072BD"},
    "encoding": {
      "x": {"field": "x", "type": "quantitative", "axis": null},
      "y": {"field": "lo", "type": "quantitative"},
      "y2": {"datum": 2.0}
    }
  },
  {
    "data": {"name": "orange_band"},
    "mark": {"type": "area", "clip": true},
    "encoding": {
      "x": {"field": "x", "type": "quantitative", "axis": null},
      "y": {"field": "hi", "type": "quantitative"},
      "y2": {"field": "lo"},
      "color": {"datum": "μR-predicted", "type": "nominal"}
    }
  }
]
}
